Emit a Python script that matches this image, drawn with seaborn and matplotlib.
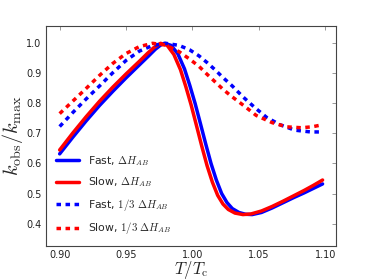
import matplotlib
matplotlib.use("Agg")
import matplotlib.pyplot as plt
import seaborn as sns
import numpy as np

# Fast, full Delta H_AB
fast_x = [0.900, 0.910, 0.920, 0.930, 0.940, 0.950, 0.960, 0.967, 0.972, 0.976,
          0.979, 0.984, 0.989, 0.994, 0.998, 1.002, 1.006, 1.010, 1.014, 1.018,
          1.022, 1.026, 1.030, 1.035, 1.040, 1.045, 1.052, 1.060, 1.068, 1.076,
          1.084, 1.091, 1.098]
fast_y = [0.632, 0.688, 0.742, 0.793, 0.840, 0.885, 0.928, 0.958, 0.980, 0.994,
          1.000, 0.993, 0.965, 0.915, 0.860, 0.800, 0.733, 0.665, 0.600, 0.545,
          0.500, 0.470, 0.450, 0.437, 0.431, 0.430, 0.437, 0.452, 0.469, 0.486,
          0.502, 0.517, 0.532]

# Slow, full Delta H_AB
slow_x = [0.900, 0.910, 0.920, 0.930, 0.940, 0.950, 0.960, 0.966, 0.971, 0.976,
          0.981, 0.986, 0.991, 0.995, 0.999, 1.003, 1.007, 1.011, 1.015, 1.019,
          1.023, 1.027, 1.032, 1.038, 1.044, 1.052, 1.060, 1.068, 1.076, 1.084,
          1.091, 1.098]
slow_y = [0.645, 0.702, 0.756, 0.807, 0.854, 0.898, 0.940, 0.966, 0.986, 1.000,
          0.993, 0.963, 0.912, 0.856, 0.795, 0.727, 0.658, 0.593, 0.538, 0.494,
          0.465, 0.447, 0.435, 0.430, 0.432, 0.442, 0.457, 0.474, 0.492, 0.510,
          0.527, 0.545]

# Fast, 1/3 Delta H_AB
fast3_x = [0.900, 0.910, 0.920, 0.930, 0.940, 0.950, 0.960, 0.970, 0.980, 0.990,
           0.998, 1.005, 1.011, 1.017, 1.023, 1.030, 1.038, 1.047, 1.056, 1.066,
           1.077, 1.089, 1.098]
fast3_y = [0.723, 0.770, 0.815, 0.858, 0.902, 0.943, 0.974, 0.993, 1.000, 0.993,
           0.978, 0.958, 0.936, 0.912, 0.886, 0.858, 0.822, 0.786, 0.753, 0.729,
           0.711, 0.705, 0.705]

# Slow, 1/3 Delta H_AB
slow3_x = [0.900, 0.910, 0.920, 0.930, 0.940, 0.950, 0.960, 0.970, 0.980, 0.990,
           0.998, 1.005, 1.011, 1.017, 1.023, 1.029, 1.035, 1.040, 1.048, 1.060,
           1.071, 1.082, 1.090, 1.098]
slow3_y = [0.766, 0.808, 0.850, 0.893, 0.933, 0.966, 0.989, 1.000, 0.994, 0.972,
           0.947, 0.923, 0.897, 0.872, 0.847, 0.825, 0.805, 0.788, 0.760, 0.736,
           0.722, 0.719, 0.722, 0.729]

x_ticks = [0.90, 0.95, 1.00, 1.05, 1.10]
y_ticks = [0.4, 0.5, 0.6, 0.7, 0.8, 0.9, 1.0]

sns.set_style("white")
plt.rcParams["font.family"] = ["DejaVu Sans"]
plt.rcParams["mathtext.fontset"] = "cm"

fig = plt.figure(figsize=(3.74, 2.80), dpi=100)
ax = fig.add_axes([0.124, 0.121, 0.774, 0.786])

lw = 2.5
dots = (0, (1.3, 1.3))
sns.lineplot(x=fast_x, y=fast_y, ax=ax, color="b", lw=lw, label=r"Fast, $\Delta H_{AB}$")
sns.lineplot(x=slow_x, y=slow_y, ax=ax, color="r", lw=lw, label=r"Slow, $\Delta H_{AB}$")
sns.lineplot(x=fast3_x, y=fast3_y, ax=ax, color="b", lw=lw, linestyle=dots,
             label=r"Fast, $1/3\ \Delta H_{AB}$")
sns.lineplot(x=slow3_x, y=slow3_y, ax=ax, color="r", lw=lw, linestyle=dots,
             label=r"Slow, $1/3\ \Delta H_{AB}$")

ax.set_xlim(0.890, 1.108)
ax.set_ylim(0.325, 1.0575)
ax.set_xticks(x_ticks)
ax.set_xticklabels([f"{t:.2f}" for t in x_ticks])
ax.set_yticks(y_ticks)
ax.set_yticklabels([f"{t:.1f}" for t in y_ticks])

ax.tick_params(direction="in", length=3, width=0.6, color="#888888",
               labelsize=7, labelcolor="#222222", top=True, right=True, pad=3.5)
ax.tick_params(axis="x", pad=2.5)
for s in ax.spines.values():
    s.set_color("#444444")
    s.set_linewidth(0.8)

ax.set_xlabel(r"$T/T_{\rm c}$", fontsize=12, labelpad=-0.5)
ax.set_ylabel(r"$k_{\rm obs}/k_{\rm max}$", fontsize=14.5, labelpad=1)

ax.legend(loc="lower left", frameon=False, fontsize=7.8, handlelength=2.1,
          labelspacing=0.7, borderaxespad=0.5, handletextpad=0.8)

fig.savefig("out.png", dpi=100)
